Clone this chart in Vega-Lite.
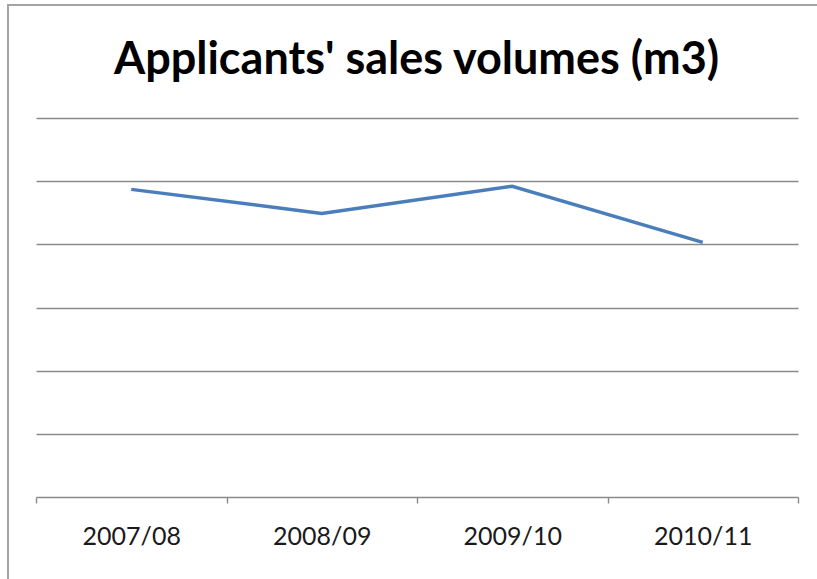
{
  "$schema": "https://vega.github.io/schema/vega-lite/v6.json",
  "autosize": {"type": "none"},
  "padding": {"left": 8, "top": 5, "right": -40, "bottom": -40},
  "width": 849,
  "height": 614,
  "background": "white",
  "title": {
    "text": "Applicants' sales volumes (m3)",
    "orient": "top",
    "anchor": "middle",
    "frame": "group",
    "baseline": "alphabetic",
    "offset": -71,
    "dy": 43,
    "dx": -16,
    "font": "Lato",
    "fontSize": 45,
    "fontWeight": "bold",
    "color": "#000000"
  },
  "config": {
    "view": {"stroke": "#a4a4a4", "strokeWidth": 2},
    "axis": {"gridColor": "#8a8a8a", "gridWidth": 1.4, "domainColor": "#8a8a8a", "tickColor": "#8a8a8a"}
  },
  "data": {
    "values": [
      {"year": "2007/08", "volume": 4.87},
      {"year": "2008/09", "volume": 4.49},
      {"year": "2009/10", "volume": 4.92},
      {"year": "2010/11", "volume": 4.03}
    ]
  },
  "mark": {"type": "line", "color": "#4a7ebb", "strokeWidth": 3.5},
  "encoding": {
    "x": {
      "field": "year",
      "type": "nominal",
      "sort": null,
      "scale": {"range": [28, 790], "paddingInner": 0, "paddingOuter": 0},
      "axis": {
        "title": null,
        "orient": "bottom",
        "offset": -122,
        "labelAngle": 0,
        "labelFont": "Lato",
        "labelFontSize": 25,
        "labelColor": "#1a1a1a",
        "labelPadding": 21,
        "tickBand": "extent",
        "tickSize": 6,
        "tickWidth": 1.4,
        "domainWidth": 1.4,
        "grid": false
      }
    },
    "y": {
      "field": "volume",
      "type": "quantitative",
      "scale": {"domain": [0, 6], "range": [492, 113], "nice": false, "zero": true},
      "axis": {
        "title": null,
        "labels": false,
        "ticks": false,
        "domain": false,
        "grid": true,
        "values": [1, 2, 3, 4, 5, 6]
      }
    }
  }
}
